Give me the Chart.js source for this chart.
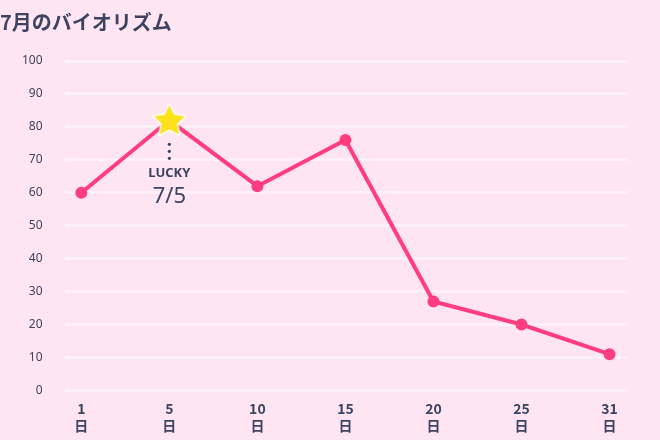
<!DOCTYPE html>
<html><head><meta charset="utf-8">
<script src="https://cdn.jsdelivr.net/npm/chart.js@4"></script>
<style>html,body{margin:0;background:#ffe4f1}#wrap{width:660px;height:440px}</style>
</head><body><div id="wrap"><canvas id="c"></canvas></div>
<script>
const days = ['1', '5', '10', '15', '20', '25', '31'];
const values = [60, 82, 62, 76, 27, 20, 11];
const luckyIndex = 1;
const yTicks = [0, 10, 20, 30, 40, 50, 60, 70, 80, 90, 100];

const ink = '#3d4461';
const pink = '#ff3d7f';

// star marker for the lucky day
function makeStar(r) {
    const cv = document.createElement('canvas');
    const s = r * 2 + 6;
    cv.width = s; cv.height = s;
    const g = cv.getContext('2d');
    g.translate(s / 2, s / 2 + 1);
    g.beginPath();
    for (let i = 0; i < 10; i++) {
        const rad = i % 2 ? r * 0.5 : r;
        const a = -Math.PI / 2 + i * Math.PI / 5;
        g.lineTo(Math.cos(a) * rad, Math.sin(a) * rad);
    }
    g.closePath();
    g.lineJoin = 'round';
    g.lineWidth = 3; g.strokeStyle = '#fff'; g.stroke();
    g.fillStyle = '#fde11a'; g.fill();
    return cv;
}
const star = makeStar(16);

const luckyLabel = {
    id: 'luckyLabel',
    afterDatasetsDraw(chart) {
        const pt = chart.getDatasetMeta(0).data[luckyIndex];
        const ctx = chart.ctx;
        ctx.save();
        ctx.fillStyle = ink;
        for (let i = 0; i < 3; i++) {
            ctx.beginPath();
            ctx.arc(pt.x, pt.y + 24 + i * 7, 1.6, 0, Math.PI * 2);
            ctx.fill();
        }
        ctx.textAlign = 'center';
        ctx.font = 'bold 13px "Noto Sans", sans-serif';
        ctx.fillText('LUCKY', pt.x, pt.y + 57);
        ctx.font = '22px "Noto Sans", sans-serif';
        ctx.fillText('7/5', pt.x, pt.y + 83);
        ctx.restore();
    }
};

new Chart(document.getElementById('c'), {
    type: 'line',
    data: {
        datasets: [{
            data: values.map((v, i) => ({ x: i, y: v })),
            borderColor: pink,
            backgroundColor: pink,
            borderWidth: 4,
            pointRadius: 4,
            pointStyle: values.map((v, i) => i === luckyIndex ? star : 'circle'),
            tension: 0
        }]
    },
    plugins: [luckyLabel],
    options: {
        responsive: true,
        maintainAspectRatio: false,
        animation: false,
        layout: { padding: { left: 0, right: 32, top: 4, bottom: 4 } },
        plugins: {
            legend: { display: false },
            tooltip: { enabled: false },
            title: {
                display: true,
                text: '7月のバイオリズム',
                align: 'start',
                color: ink,
                font: { family: '"Noto Sans CJK JP", sans-serif', size: 20, weight: 'bold' },
                padding: { top: 6, bottom: 27 }
            }
        },
        scales: {
            x: {
                type: 'linear',
                min: -0.19, max: 6.21,
                afterBuildTicks: s => { s.ticks = days.map((d, i) => ({ value: i })); },
                ticks: {
                    callback: (v) => [days[v], '日'],
                    color: ink,
                    font: { family: '"Noto Sans CJK JP", sans-serif', size: 14, weight: 'bold' },
                    padding: 2
                },
                grid: { display: false },
                border: { display: false }
            },
            y: {
                min: 0, max: 100,
                afterBuildTicks: s => { s.ticks = yTicks.map(v => ({ value: v })); },
                ticks: {
                    color: ink,
                    font: { family: '"Noto Sans", sans-serif', size: 12 },
                    padding: 22
                },
                grid: { color: 'rgba(255,255,255,0.45)', lineWidth: 3, drawTicks: false },
                border: { display: false }
            }
        }
    }
});
</script></body></html>
